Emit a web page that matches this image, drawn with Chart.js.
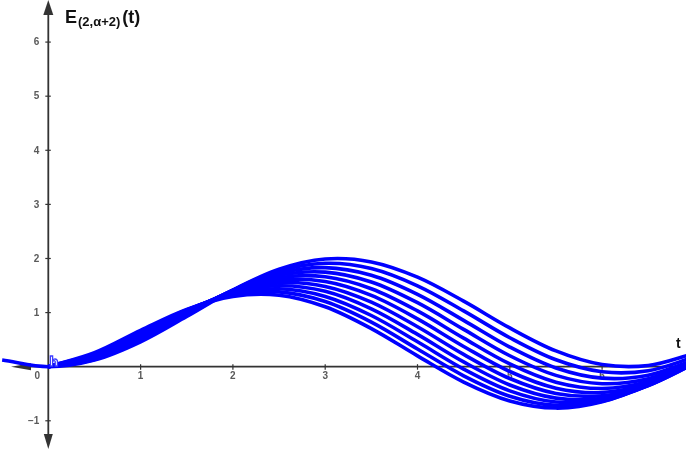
<!DOCTYPE html>
<html>
<head>
<meta charset="utf-8">
<script src="https://cdn.jsdelivr.net/npm/chart.js@4/dist/chart.umd.min.js"></script>
<style>
  html, body { margin: 0; padding: 0; background: #ffffff; }
  canvas { display: block; }
</style>
</head>
<body>
<canvas id="chart" width="686" height="454"></canvas>
<script>
// Sample points t and the curves E for alpha = 0.5 ... 1.0 (step 0.05)
const tValues = [-0.5, 0, 0.5, 1, 1.5, 2, 2.5, 3, 3.5, 4, 4.5, 5, 5.5, 6, 6.5, 7];

const alpha050 = [null, 0, 0.258, 0.670, 1.057, 1.300, 1.322, 1.108, 0.704, 0.200, -0.284, -0.633, -0.765, -0.650, -0.321, 0.142];
const alpha055 = [null, 0, 0.241, 0.649, 1.051, 1.324, 1.383, 1.204, 0.824, 0.327, -0.168, -0.545, -0.715, -0.640, -0.340, 0.108];
const alpha060 = [null, 0, 0.225, 0.628, 1.043, 1.344, 1.441, 1.299, 0.946, 0.460, -0.044, -0.447, -0.654, -0.618, -0.350, 0.081];
const alpha065 = [null, 0, 0.209, 0.606, 1.034, 1.362, 1.496, 1.393, 1.069, 0.597, 0.088, -0.338, -0.581, -0.583, -0.349, 0.063];
const alpha070 = [null, 0, 0.194, 0.585, 1.023, 1.378, 1.549, 1.484, 1.193, 0.738, 0.227, -0.219, -0.495, -0.537, -0.337, 0.053];
const alpha075 = [null, 0, 0.180, 0.564, 1.010, 1.390, 1.598, 1.574, 1.317, 0.883, 0.374, -0.089, -0.397, -0.477, -0.312, 0.054];
const alpha080 = [null, 0, 0.167, 0.542, 0.996, 1.400, 1.645, 1.662, 1.441, 1.031, 0.528, 0.051, -0.286, -0.403, -0.275, 0.065];
const alpha085 = [null, 0, 0.155, 0.521, 0.981, 1.408, 1.689, 1.748, 1.566, 1.183, 0.689, 0.202, -0.161, -0.315, -0.223, 0.089];
const alpha090 = [null, 0, 0.143, 0.500, 0.965, 1.413, 1.729, 1.831, 1.690, 1.337, 0.857, 0.363, -0.024, -0.212, -0.157, 0.127];
const alpha095 = [null, 0, 0.133, 0.480, 0.947, 1.416, 1.767, 1.912, 1.814, 1.494, 1.031, 0.535, 0.127, -0.094, -0.075, 0.179];
const alpha100 = [0.122, 0, 0.122, 0.460, 0.929, 1.416, 1.801, 1.990, 1.936, 1.654, 1.211, 0.716, 0.291, 0.040, 0.023, 0.246];

const alphaLabels = ['0.5', '0.55', '0.6', '0.65', '0.7', '0.75', '0.8', '0.85', '0.9', '0.95', '1'];
const seriesList = [alpha050, alpha055, alpha060, alpha065, alpha070, alpha075,
                    alpha080, alpha085, alpha090, alpha095, alpha100];

const xTicks = [1, 2, 3, 4, 5, 6];
const yTicks = [-1, 1, 2, 3, 4, 5, 6];

// Visible window of the plane
const X_MIN = -0.5233, X_MAX = 6.909;
const Y_MIN = -1.614, Y_MAX = 6.778;

const CURVE_BLUE = '#0000ff';
const AXIS_COLOR = '#333333';
const TICK_TEXT = '#5a5a5a';

const datasets = seriesList.map((vals, i) => ({
  label: 'α = ' + alphaLabels[i],
  data: tValues.map((t, j) => ({ x: t, y: vals[j] })).filter(p => p.y !== null),
  borderColor: CURVE_BLUE,
  borderWidth: 3.6,
  pointRadius: 0,
  pointHoverRadius: 0,
  tension: 0.34,
  fill: false
}));

// Axes with arrows, tick marks and tick numbers, painted beneath the curves
const axesPlugin = {
  id: 'planeAxes',
  beforeDatasetsDraw(chart) {
    const { ctx, chartArea, scales: { x, y } } = chart;
    const x0 = x.getPixelForValue(0);
    const y0 = y.getPixelForValue(0);
    ctx.save();
    ctx.strokeStyle = AXIS_COLOR;
    ctx.fillStyle = AXIS_COLOR;
    ctx.lineWidth = 1.8;

    // horizontal axis
    ctx.beginPath();
    ctx.moveTo(chartArea.left + 20, y0);
    ctx.lineTo(chartArea.right, y0);
    ctx.stroke();
    // left arrow head
    ctx.beginPath();
    ctx.moveTo(11, y0);
    ctx.lineTo(31, y0 - 3.5);
    ctx.lineTo(31, y0 + 3.5);
    ctx.closePath();
    ctx.fill();

    // vertical axis
    ctx.beginPath();
    ctx.moveTo(x0, 10);
    ctx.lineTo(x0, 438);
    ctx.stroke();
    // top arrow head
    ctx.beginPath();
    ctx.moveTo(x0, 0);
    ctx.lineTo(x0 - 5, 15);
    ctx.lineTo(x0 + 5, 15);
    ctx.closePath();
    ctx.fill();
    // bottom arrow head
    ctx.beginPath();
    ctx.moveTo(x0, 449);
    ctx.lineTo(x0 - 4.5, 434);
    ctx.lineTo(x0 + 4.5, 434);
    ctx.closePath();
    ctx.fill();

    // tick marks
    ctx.lineWidth = 1.2;
    xTicks.forEach(v => {
      const px = x.getPixelForValue(v);
      ctx.beginPath();
      ctx.moveTo(px, y0 - 2.5);
      ctx.lineTo(px, y0 + 3);
      ctx.stroke();
    });
    yTicks.forEach(v => {
      const py = y.getPixelForValue(v);
      ctx.beginPath();
      ctx.moveTo(x0 - 3, py);
      ctx.lineTo(x0 + 2.5, py);
      ctx.stroke();
    });

    // tick numbers
    ctx.fillStyle = TICK_TEXT;
    ctx.font = 'bold 10px "Liberation Sans", Arial, sans-serif';
    ctx.textBaseline = 'middle';
    ctx.textAlign = 'center';
    xTicks.forEach(v => {
      ctx.fillText(String(v), x.getPixelForValue(v), y0 + 10);
    });
    ctx.fillText('0', x0 - 11, y0 + 10);
    ctx.textAlign = 'right';
    yTicks.forEach(v => {
      const txt = v < 0 ? '\u2212' + Math.abs(v) : String(v);
      ctx.fillText(txt, x0 - 9, y.getPixelForValue(v) + 0.5);
    });
    ctx.restore();
  },
  afterDatasetsDraw(chart) {
    const { ctx, scales: { x, y } } = chart;
    const x0 = x.getPixelForValue(0);
    const y0 = y.getPixelForValue(0);
    ctx.save();

    // point label at the origin
    ctx.font = 'bold 13px "DejaVu Sans", sans-serif';
    ctx.textAlign = 'left';
    ctx.textBaseline = 'alphabetic';
    ctx.fillStyle = '#ffffff';
    ctx.strokeStyle = '#3b3bff';
    ctx.lineWidth = 1.3;
    ctx.fillText('h', x0 + 1, y0 - 0.5);
    ctx.strokeText('h', x0 + 1, y0 - 0.5);

    // axis names
    ctx.fillStyle = '#111111';
    ctx.font = 'bold 18px "Liberation Sans", Arial, sans-serif';
    let cx = 65;
    const base = 23;
    ctx.fillText('E', cx, base);
    cx += ctx.measureText('E').width + 1;
    ctx.font = 'bold 13px "Liberation Sans", Arial, sans-serif';
    ctx.fillText('(2,\u03b1+2)', cx, base + 3);
    cx += ctx.measureText('(2,\u03b1+2)').width + 2;
    ctx.font = 'bold 18px "Liberation Sans", Arial, sans-serif';
    ctx.fillText('(t)', cx, base);

    ctx.font = 'bold 14px "Liberation Sans", Arial, sans-serif';
    ctx.fillText('t', 676, 348);
    ctx.restore();
  }
};

new Chart(document.getElementById('chart'), {
  type: 'line',
  data: { datasets },
  options: {
    responsive: false,
    animation: false,
    devicePixelRatio: 1,
    layout: { padding: 0 },
    plugins: {
      legend: { display: false },
      title: { display: false },
      tooltip: { enabled: false }
    },
    events: [],
    scales: {
      x: { type: 'linear', min: X_MIN, max: X_MAX, display: false },
      y: { type: 'linear', min: Y_MIN, max: Y_MAX, display: false }
    }
  },
  plugins: [axesPlugin]
});
</script>
</body>
</html>
